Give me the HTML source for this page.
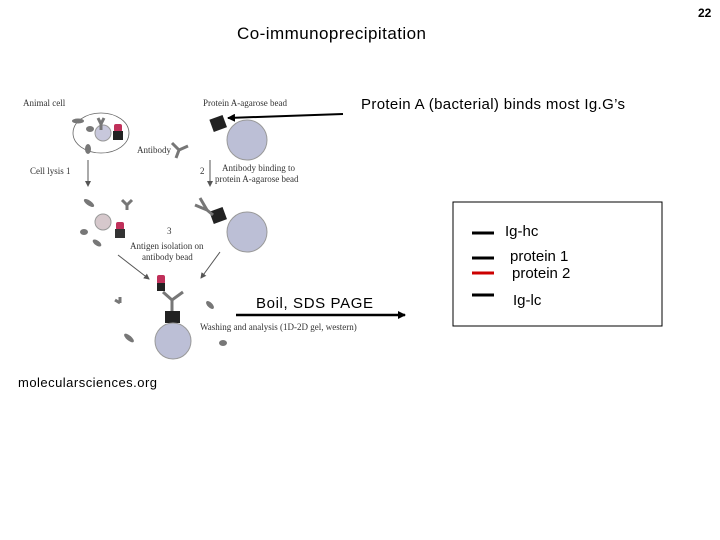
<!DOCTYPE html>
<html><head><style>
body{margin:0;background:#fff;}
svg{display:block;font-family:"Liberation Sans",sans-serif;}
.s{font-family:"Liberation Serif",serif;font-size:9px;fill:#333;}
</style></head><body>
<svg width="720" height="540" viewBox="0 0 720 540">
<defs>
<marker id="a" markerWidth="8" markerHeight="8" refX="7" refY="4" orient="auto" markerUnits="userSpaceOnUse"><path d="M0,0 L8,4 L0,8 z" fill="#000"/></marker>
<marker id="g" markerWidth="6" markerHeight="6" refX="5" refY="3" orient="auto" markerUnits="userSpaceOnUse"><path d="M0,0 L6,3 L0,6 z" fill="#555"/></marker>
</defs>
<text x="698" y="17" font-size="12" font-weight="bold">22</text>
<text x="237" y="39" font-size="17" textLength="189">Co-immunoprecipitation</text>
<text x="361" y="109" font-size="15" textLength="264">Protein A (bacterial) binds most Ig.G’s</text>
<line x1="343" y1="114" x2="228" y2="118" stroke="#000" stroke-width="2" marker-end="url(#a)"/>

<text class="s" x="23" y="106">Animal cell</text>
<text class="s" x="203" y="106">Protein A-agarose bead</text>
<ellipse cx="101" cy="133" rx="28" ry="20" fill="none" stroke="#666" stroke-width="0.8"/>
<circle cx="103" cy="133" r="8" fill="#c8c8dc" stroke="#999"/>
<rect x="114" y="124" width="8" height="8" rx="2" fill="#c0305a"/>
<rect x="113" y="131" width="10" height="9" fill="#222"/>
<ellipse cx="78" cy="121" rx="6" ry="2.5" fill="#777"/>
<ellipse cx="90" cy="129" rx="4" ry="3" fill="#777"/>
<ellipse cx="88" cy="149" rx="3" ry="5" fill="#777"/>
<path d="M98,118 L101,124 M104,118 L101,124 L101,130" stroke="#777" stroke-width="3" fill="none"/>
<circle cx="247" cy="140" r="20" fill="#bcbfd6" stroke="#999"/>
<rect x="211" y="117" width="14" height="13" fill="#222" transform="rotate(-20 218 123)"/>
<path d="M172,143 L179,150 L176,158 M179,150 L188,146" stroke="#777" stroke-width="3" fill="none"/>
<text class="s" x="137" y="153">Antibody</text>

<line x1="88" y1="160" x2="88" y2="186" stroke="#555" marker-end="url(#g)"/>
<text class="s" x="30" y="174">Cell lysis  1</text>
<line x1="210" y1="160" x2="210" y2="186" stroke="#555" marker-end="url(#g)"/>
<text class="s" x="200" y="174">2</text>
<text class="s" x="222" y="171">Antibody binding to</text>
<text class="s" x="215" y="182">protein A-agarose bead</text>

<ellipse cx="89" cy="203" rx="6" ry="2.5" fill="#777" transform="rotate(35 89 203)"/>
<path d="M122,200 L127,205 M132,200 L127,205 L127,210" stroke="#777" stroke-width="3" fill="none"/>
<circle cx="103" cy="222" r="8" fill="#d6c8cc" stroke="#999"/>
<rect x="116" y="222" width="8" height="8" rx="2" fill="#c0305a"/>
<rect x="115" y="229" width="10" height="9" fill="#333"/>
<ellipse cx="84" cy="232" rx="4" ry="3" fill="#777"/>
<ellipse cx="97" cy="243" rx="5" ry="2.5" fill="#777" transform="rotate(35 97 243)"/>
<circle cx="247" cy="232" r="20" fill="#bcbfd6" stroke="#999"/>
<rect x="211" y="209" width="14" height="13" fill="#222" transform="rotate(-20 218 215)"/>
<path d="M195,205 L207,210 L213,215 M200,198 L207,210" stroke="#777" stroke-width="3" fill="none"/>
<text class="s" x="167" y="234">3</text>
<text class="s" x="130" y="249">Antigen isolation on</text>
<text class="s" x="142" y="260">antibody bead</text>
<line x1="118" y1="255" x2="149" y2="279" stroke="#555" marker-end="url(#g)"/>
<line x1="220" y1="252" x2="201" y2="278" stroke="#555" marker-end="url(#g)"/>

<rect x="157" y="275" width="8" height="9" rx="2" fill="#c0305a"/>
<rect x="157" y="283" width="8" height="8" fill="#222"/>
<path d="M163,292 L172,300 L183,292 M172,300 L172,311" stroke="#777" stroke-width="3" fill="none"/>
<rect x="165" y="311" width="15" height="12" fill="#222"/>
<circle cx="173" cy="341" r="18" fill="#bcbfd6" stroke="#999"/>
<path d="M115,300 L120,303 M120,297 L120,303" stroke="#777" stroke-width="3" fill="none"/>
<ellipse cx="210" cy="305" rx="5" ry="2.5" fill="#777" transform="rotate(45 210 305)"/>
<ellipse cx="129" cy="338" rx="6" ry="2.5" fill="#777" transform="rotate(40 129 338)"/>
<ellipse cx="223" cy="343" rx="4" ry="3" fill="#777"/>
<text class="s" x="200" y="330">Washing and analysis (1D-2D gel, western)</text>

<text x="256" y="308" font-size="15" textLength="117">Boil, SDS PAGE</text>
<line x1="236" y1="315" x2="405" y2="315" stroke="#000" stroke-width="2.5" marker-end="url(#a)"/>

<text x="18" y="387" font-size="13" textLength="139">molecularsciences.org</text>

<rect x="453" y="202" width="209" height="124" fill="none" stroke="#000" stroke-width="1"/>
<line x1="472" y1="233" x2="494" y2="233" stroke="#000" stroke-width="3"/>
<line x1="472" y1="258" x2="494" y2="258" stroke="#000" stroke-width="3"/>
<line x1="472" y1="273" x2="494" y2="273" stroke="#c00" stroke-width="3"/>
<line x1="472" y1="295" x2="494" y2="295" stroke="#000" stroke-width="3"/>
<text x="505" y="236" font-size="15">Ig-hc</text>
<text x="510" y="261" font-size="15">protein 1</text>
<text x="512" y="278" font-size="15">protein 2</text>
<text x="513" y="305" font-size="15">Ig-lc</text>
</svg>
</body></html>
